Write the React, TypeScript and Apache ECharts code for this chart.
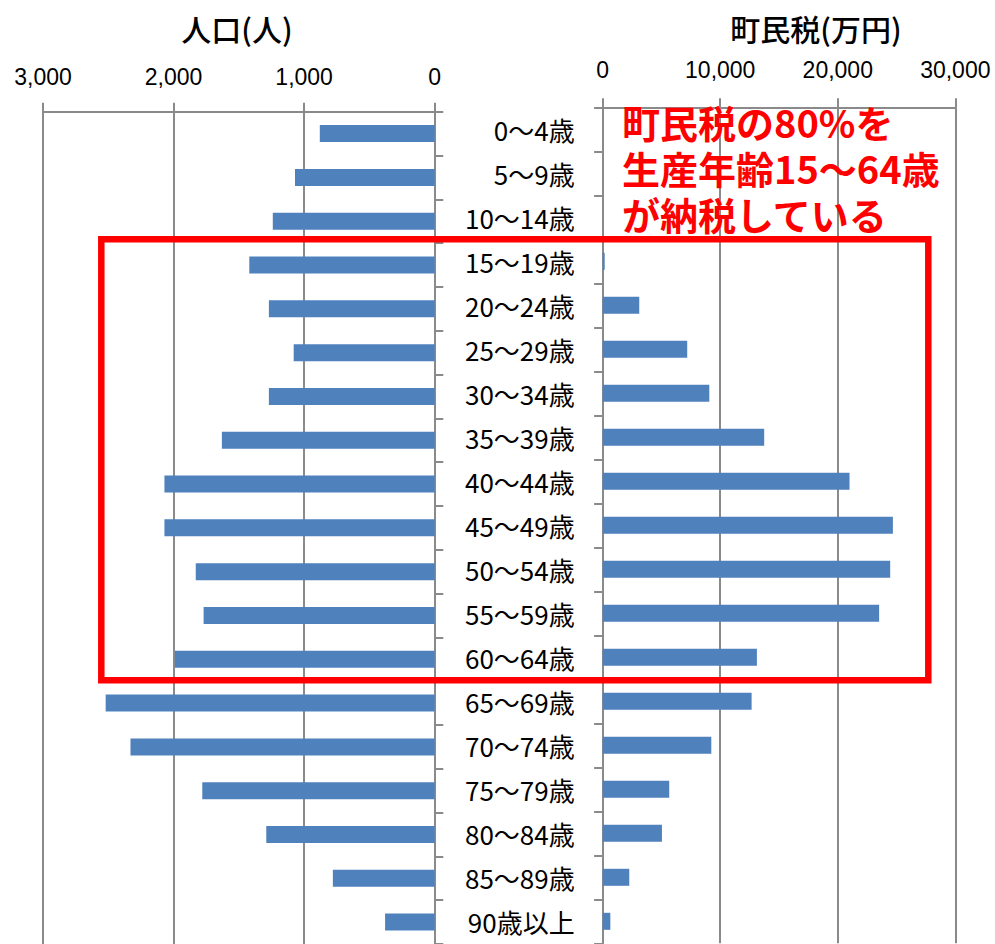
import React, { useEffect, useRef } from "react";
import * as echarts from "echarts";

const categories = [
  "0～4歳", "5～9歳", "10～14歳", "15～19歳", "20～24歳", "25～29歳",
  "30～34歳", "35～39歳", "40～44歳", "45～49歳", "50～54歳", "55～59歳",
  "60～64歳", "65～69歳", "70～74歳", "75～79歳", "80～84歳", "85～89歳", "90歳以上",
];
const population = [880, 1070, 1240, 1420, 1270, 1080, 1270, 1630, 2070, 2070, 1830, 1770, 1990, 2520, 2330, 1780, 1290, 780, 380];
const tax = [0, 0, 0, 170, 3110, 7190, 9070, 13740, 21000, 24690, 24460, 23520, 13120, 12670, 9240, 5660, 5040, 2260, 650];
const popAxis = { min: 0, max: 3000, interval: 1000 };
const taxAxis = { min: 0, max: 30000, interval: 10000 };
const leftTitle = "人口(人)";
const rightTitle = "町民税(万円)";
const noteLines = ["町民税の80%を", "生産年齢15～64歳", "が納税している"];

const GRAY = "#8a8a8a";
const BLUE = "#4f81bd";
const JP = "'Noto Sans CJK JP', 'Noto Sans', sans-serif";
const NUM = "'Liberation Sans', Arial, sans-serif";

const fmt = (v: number) => v.toLocaleString("en-US");

export default function App() {
  const ref = useRef<HTMLDivElement>(null);
  useEffect(() => {
    document.body.style.margin = "0";
    const chart = echarts.init(ref.current!, undefined, { renderer: "svg" });
    const line = { color: GRAY, width: 2 };
    chart.setOption({
      animation: false,
      grid: [
        { left: 43, top: 111.7, width: 391.7, height: 836 },
        { left: 602.7, top: 107.3, width: 352.6, height: 836 },
      ],
      xAxis: [
        {
          gridIndex: 0, type: "value", ...popAxis, inverse: true, position: "top",
          axisLine: { show: true, lineStyle: line },
          axisTick: { show: true, length: 9, lineStyle: line },
          axisLabel: { margin: 23, fontSize: 23, color: "#000", fontFamily: NUM, formatter: fmt },
          splitLine: { show: true, lineStyle: line },
        },
        {
          gridIndex: 1, type: "value", ...taxAxis, position: "top",
          axisLine: { show: true, lineStyle: line },
          axisTick: { show: true, length: 9, lineStyle: line },
          axisLabel: { margin: 26, fontSize: 23, color: "#000", fontFamily: NUM, formatter: fmt },
          splitLine: { show: true, lineStyle: line },
        },
      ],
      yAxis: [
        {
          gridIndex: 0, type: "category", data: categories, inverse: true, position: "right",
          axisLine: { show: true, lineStyle: line },
          axisTick: { show: true, length: 8.6, lineStyle: line },
          axisLabel: { show: false },
        },
        {
          gridIndex: 1, type: "category", data: categories, inverse: true, position: "left",
          axisLine: { show: true, lineStyle: line },
          axisTick: { show: true, length: 8.6, lineStyle: line },
          axisLabel: { margin: 28, fontSize: 26, color: "#000", fontFamily: JP, padding: [0, 0, 3, 0] },
        },
      ],
      series: [
        { type: "bar", xAxisIndex: 0, yAxisIndex: 0, data: population, barWidth: 17, itemStyle: { color: BLUE } },
        { type: "bar", xAxisIndex: 1, yAxisIndex: 1, data: tax, barWidth: 17, itemStyle: { color: BLUE } },
      ],
      graphic: [
        {
          type: "text", style: {
            text: leftTitle, x: 237, y: 28, align: "center", verticalAlign: "middle",
            font: `500 30px ${JP}`, fill: "#000",
          },
        },
        {
          type: "text", style: {
            text: rightTitle, x: 816, y: 28, align: "center", verticalAlign: "middle",
            font: `500 30px ${JP}`, fill: "#000",
          },
        },
        {
          type: "text", z: 10, style: {
            text: noteLines.join("\n"), x: 622, y: 98.7, align: "left", verticalAlign: "top",
            font: `bold 38px ${JP}`, lineHeight: 46, fill: "#ff0000",
          },
        },
        {
          type: "rect", z: 10, shape: { x: 101.3, y: 239.2, width: 827, height: 441 },
          style: { fill: "none", stroke: "#ff0000", lineWidth: 6.5 },
        },
      ],
    });
    return () => chart.dispose();
  }, []);
  return <div ref={ref} style={{ width: 995, height: 944 }} />;
}
